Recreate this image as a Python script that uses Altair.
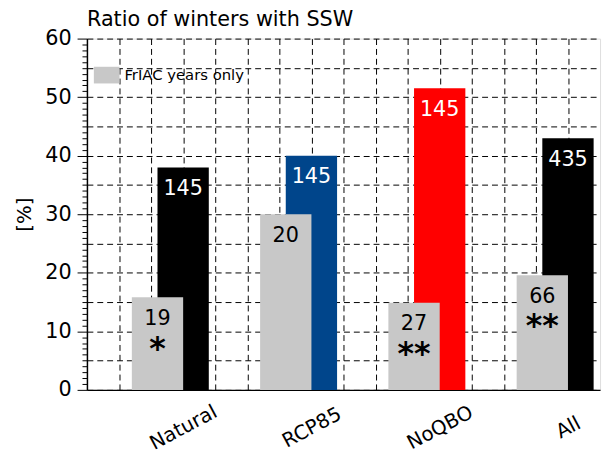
import altair as alt
import pandas as pd

# ---- data ----
groups = ["Natural", "RCP85", "NoQBO", "All"]
all_pct = [38.0, 40.0, 51.5, 43.0]          # all years
all_n = [145, 145, 145, 435]
fr_pct = [15.8, 30.0, 14.9, 19.6]           # FrIAC years only
fr_n = [19, 20, 27, 66]
signif = ["*", "", "**", "**"]
bar_colors = ["#000000", "#00458b", "#ff0000", "#000000"]
legend_label = "FrIAC years only"
gray = "#c8c8c8"

# layout: each group occupies 4 units of a 0..16 axis
centers = [4 * i + 3 for i in range(len(groups))]
half = 0.8

df = pd.DataFrame({
    "group": groups,
    "c": centers,
    "all_x": [c - half for c in centers],
    "all_x2": [c + half for c in centers],
    "fr_x": [c - 2 * half for c in centers],
    "fr_x2": centers,
    "fr_c": [c - half for c in centers],
    "all_pct": all_pct,
    "all_n": [str(v) for v in all_n],
    "fr_pct": fr_pct,
    "fr_n": [str(v) for v in fr_n],
    "sig": signif,
    "color": bar_colors,
    "leg": [legend_label] * len(groups),
})

FONT = "DejaVu Sans"
label_expr = " : ".join(
    [f"datum.value == {c} ? '{g}'" for c, g in zip(centers, groups)]
) + " : ''"

xscale = alt.Scale(domain=[0, 16], nice=False, zero=False)
yscale = alt.Scale(domain=[0, 60], nice=False, zero=True)

x_axis = alt.Axis(
    values=list(range(1, 16)),
    title=None,
    ticks=False,
    grid=True,
    gridDash=[6, 4],
    gridColor="black",
    gridWidth=1,
    domainColor="black",
    domainWidth=1.5,
    labelExpr=label_expr,
    labelAngle=332,
    labelAlign="center",
    labelBaseline="middle",
    labelPadding=38,
    labelFont=FONT,
    labelFontSize=20,
    labelColor="black",
    labelOverlap=False,
    labelFlush=False,
)

y_axis = alt.Axis(
    values=list(range(0, 61)),
    title="[%]",
    titleFont=FONT,
    titleFontSize=20,
    titleFontWeight="normal",
    titleColor="black",
    titleAngle=270,
    titleAlign="center",
    titleBaseline="middle",
    titleX=-63,
    titleY=178,
    labelExpr="datum.value % 10 == 0 ? datum.label : ''",
    labelFont=FONT,
    labelFontSize=21,
    labelColor="black",
    labelPadding=6,
    labelOverlap=False,
    labelFlush=False,
    tickSize={"condition": {"test": "datum.value % 10 == 0", "value": 10}, "value": 5},
    tickColor="black",
    tickWidth=1,
    domainColor="black",
    domainWidth=1.5,
    grid=True,
    gridDash=[6, 4],
    gridColor="black",
    gridWidth=1,
    gridOpacity={"condition": {"test": "datum.value % 5 == 0", "value": 1}, "value": 0},
)


def X(field):
    return alt.X(field, type="quantitative", scale=xscale, axis=x_axis)


def Y(field):
    return alt.Y(field, type="quantitative", scale=yscale, axis=y_axis)


base = alt.Chart(df)

all_bars = base.mark_rect().encode(
    x=X("all_x"),
    x2="all_x2:Q",
    y=Y("all_pct"),
    y2=alt.datum(0),
    color=alt.Color("color:N", scale=None),
)

fr_bars = base.mark_rect().encode(
    x=X("fr_x"),
    x2="fr_x2:Q",
    y=Y("fr_pct"),
    y2=alt.datum(0),
    color=alt.Color(
        "leg:N",
        scale=alt.Scale(domain=[legend_label], range=[gray]),
        legend=alt.Legend(
            title=None,
            orient="none",
            legendX=7,
            legendY=24,
            symbolType="M-1,-0.65H1V0.65H-1Z",
            symbolSize=676,
            symbolStrokeWidth=0,
            symbolOpacity=1,
            labelFont=FONT,
            labelFontSize=15,
            labelColor="black",
            labelOffset=5,
            padding=0,
        ),
    ),
)

all_text = base.mark_text(
    font=FONT, fontSize=21, color="white", baseline="middle", dy=22
).encode(
    x=X("c"),
    y=Y("all_pct"),
    text="all_n:N",
)

fr_text = base.mark_text(
    font=FONT, fontSize=21, color="black", baseline="middle", dy=22
).encode(
    x=X("fr_c"),
    y=Y("fr_pct"),
    text="fr_n:N",
)

star_text = base.mark_text(
    font=FONT, fontSize=32, fontWeight="bold", color="black",
    baseline="alphabetic", dy=62
).encode(
    x=X("fr_c"),
    y=Y("fr_pct"),
    text="sig:N",
)

chart = (
    alt.layer(all_bars, fr_bars, all_text, fr_text, star_text)
    .resolve_scale(color="independent")
    .properties(
        width=520,
        height=356,
        title=alt.TitleParams(
            "Ratio of winters with SSW",
            anchor="start",
            frame="group",
            font=FONT,
            fontSize=21,
            fontWeight="normal",
            color="black",
            baseline="alphabetic",
            offset=0,
            dy=19,
        ),
        autosize=alt.AutoSizeParams(type="none"),
        padding={"left": 80, "top": 28, "right": 3, "bottom": 64},
    )
    .configure_view(stroke="black", strokeWidth=1.5)
    .configure(background="white")
)

chart.save("out.html", embed_options={"renderer": "svg", "actions": False})
